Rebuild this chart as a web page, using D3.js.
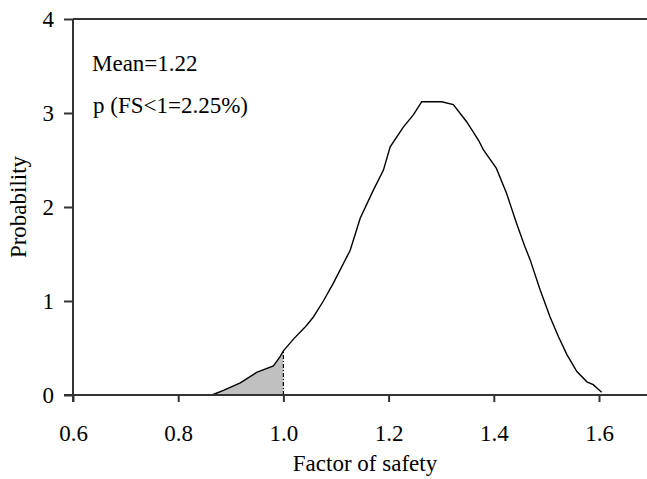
<!DOCTYPE html>
<html><head><meta charset="utf-8">
<script src="https://cdn.jsdelivr.net/npm/d3@7"></script>
<style>body{margin:0;background:#fff}svg{display:block}text{font-family:"Liberation Serif","Times New Roman",serif;fill:#000}</style>
</head><body>
<svg id="c" width="647" height="479"></svg>
<script>
const fsValues = [0.864,0.886,0.918,0.949,0.981,0.994,1.000,1.020,1.044,1.057,1.076,1.095,1.127,1.146,1.171,1.190,1.203,1.228,1.247,1.263,1.301,1.323,1.348,1.371,1.380,1.405,1.424,1.443,1.459,1.469,1.488,1.507,1.523,1.539,1.558,1.577,1.589,1.605];
const probValues = [0.00,0.05,0.13,0.24,0.31,0.41,0.47,0.60,0.74,0.83,1.00,1.19,1.54,1.88,2.18,2.39,2.64,2.85,2.98,3.12,3.12,3.09,2.91,2.71,2.61,2.41,2.15,1.83,1.58,1.44,1.12,0.83,0.62,0.43,0.25,0.14,0.11,0.03];
const xTicks = [0.6,0.8,1.0,1.2,1.4,1.6];
const yTicks = [0,1,2,3,4];
const failLimit = 1.0;
const annotations = ["Mean=1.22","p (FS<1=2.25%)"];
const xTitle = "Factor of safety";
const yTitle = "Probability";

const svg = d3.select("#c");
const x = d3.scaleLinear().domain([0.6,1.7]).range([73,651.6]);
const y = d3.scaleLinear().domain([0,4]).range([395,19]);
const data = fsValues.map((v,i)=>({x:v,y:probValues[i]}));

// shaded failure region
const fail = data.filter(d=>d.x<=failLimit);
svg.append("path").datum(fail)
  .attr("d", d3.area().x(d=>x(d.x)).y0(y(0)).y1(d=>y(d.y)))
  .attr("fill","#c0c0c0");
const fd = fail[fail.length-1];
svg.append("line").attr("x1",x(fd.x)).attr("x2",x(fd.x)).attr("y1",y(0)).attr("y2",y(fd.y))
  .attr("stroke","#000").attr("stroke-width",1.2).attr("stroke-dasharray","4,2,1,2");

// curve
svg.append("path").datum(data)
  .attr("d", d3.line().x(d=>x(d.x)).y(d=>y(d.y)))
  .attr("fill","none").attr("stroke","#000").attr("stroke-width",1.4);

// top border
svg.append("line").attr("x1",x(0.6)).attr("x2",647).attr("y1",y(4)).attr("y2",y(4))
  .attr("stroke","#333").attr("stroke-width",2);

// axes
const gx = svg.append("g").attr("transform",`translate(0,${y(0)})`)
  .call(d3.axisBottom(x).tickValues(xTicks).tickFormat(d3.format(".1f")).tickSize(7).tickPadding(23));
gx.select(".domain").remove();
gx.append("line").attr("x1",64).attr("x2",647).attr("stroke","#333").attr("stroke-width",2);
gx.selectAll(".tick line").attr("stroke","#333").attr("stroke-width",2);
gx.selectAll("text").attr("font-size",23).attr("font-family","Liberation Serif").attr("fill","#000");

const gy = svg.append("g").attr("transform",`translate(${x(0.6)},0)`)
  .call(d3.axisLeft(y).tickValues(yTicks).tickFormat(d3.format("d")).tickSize(9).tickPadding(10));
gy.select(".domain").remove();
gy.append("line").attr("y1",y(4)).attr("y2",y(0)+7).attr("stroke","#333").attr("stroke-width",2);
gy.selectAll(".tick line").attr("stroke","#333").attr("stroke-width",2);
gy.selectAll("text").attr("font-size",23).attr("font-family","Liberation Serif").attr("fill","#000");

// titles
svg.append("text").attr("x",365).attr("y",471).attr("text-anchor","middle").attr("font-size",23).text(xTitle);
svg.append("text").attr("transform","translate(26,207) rotate(-90)").attr("text-anchor","middle").attr("font-size",23).text(yTitle);

// annotations
svg.append("text").attr("x",92).attr("y",71).attr("font-size",23).text(annotations[0]);
svg.append("text").attr("x",93).attr("y",113).attr("font-size",23).text(annotations[1]);
</script>
</body></html>
